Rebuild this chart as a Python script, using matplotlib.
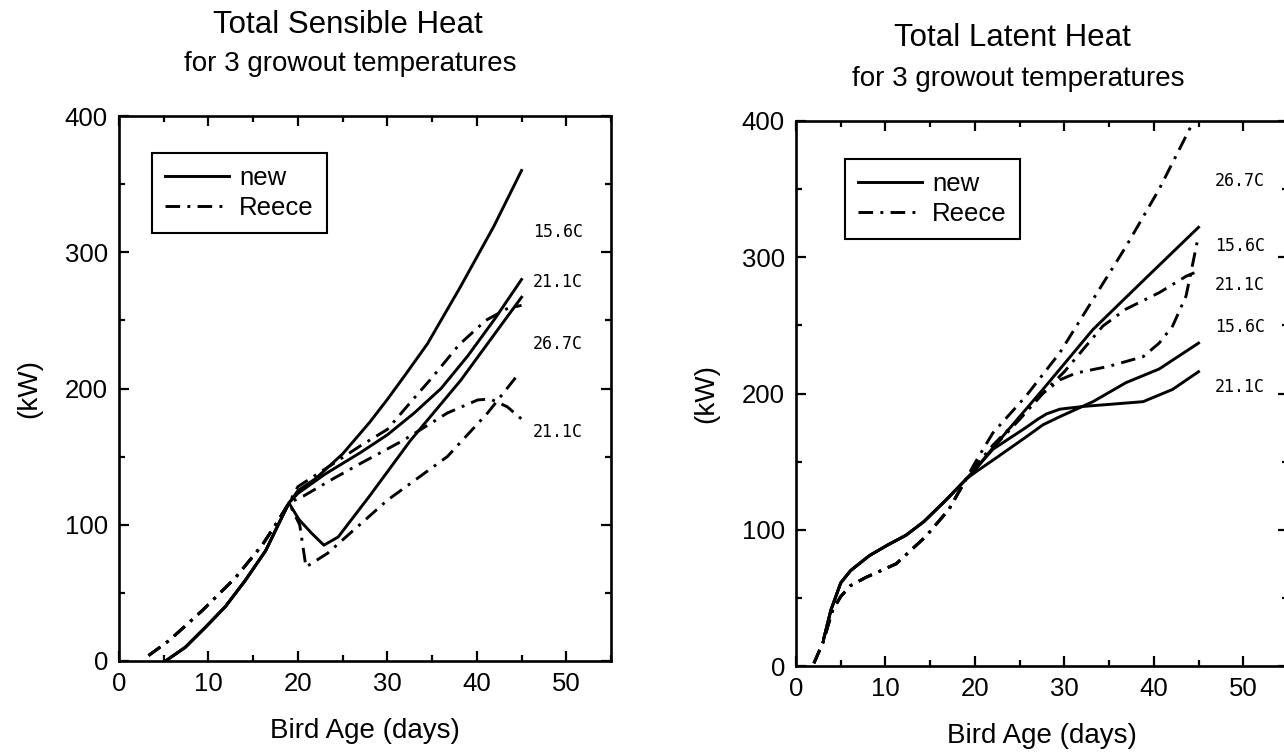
import matplotlib
matplotlib.use('Agg')
import matplotlib.pyplot as plt
from matplotlib.lines import Line2D
from matplotlib.ticker import MultipleLocator

plt.rcParams['font.family'] = ['Liberation Sans', 'DejaVu Sans']

# ---- Total Sensible Heat (left) ----
# first part of the growout is shared by all temperatures
sens_new_early_day = [5.2, 7.4, 9.7, 11.9, 14.1, 16.4, 17.8, 19.0]
sens_new_early_kw = [0, 10, 25, 40, 59, 81, 100, 116]
sens_reece_early_day = [3.3, 5.6, 9.3, 13.0, 16.0, 17.5, 19.0]
sens_reece_early_kw = [4, 15, 37, 61, 85, 100, 116]

sens_new_156_day = [20, 22, 25, 28, 30, 32, 34.5, 38.2, 41.9, 45]
sens_new_156_kw = [125, 134, 152, 175, 192, 210, 233, 275, 319, 360]
sens_new_211_day = [20, 23, 27, 30, 33, 36, 39, 42, 45]
sens_new_211_kw = [123, 137, 153, 166, 182, 200, 224, 251, 280]
sens_new_267_day = [20.1, 21.5, 22.9, 24.5, 28, 32.6, 38.2, 45]
sens_new_267_kw = [104, 94, 85, 91, 121, 162, 206, 267]

sens_reece_156_day = [20, 24, 27, 30, 33, 35, 38, 41, 43.5, 45]
sens_reece_156_kw = [128, 145, 158, 170, 193, 208, 232, 250, 259, 261]
sens_reece_211_day = [20.6, 24, 27, 31.8, 36.7, 40.1, 41.5, 43.4, 45.1]
sens_reece_211_kw = [121, 134, 145, 162, 182, 191.6, 192.3, 186.6, 177]
sens_reece_267_day = [20.2, 20.9, 23.3, 30, 36.7, 41.2, 44.7]
sens_reece_267_kw = [100, 69, 79, 118, 150, 182, 211]

sens_labels = ["15.6C", "21.1C", "26.7C", "21.1C"]
sens_label_kw = [315, 278, 233, 168]

# ---- Total Latent Heat (right) ----
lat_new_early_day = [3.1, 3.9, 5.0, 6.1, 8.2, 10.3, 12.3, 14.3, 16.8, 19.0]
lat_new_early_kw = [20, 41, 61, 70, 81, 89, 96, 106, 122, 137]
lat_reece_early_day = [2.0, 3.0, 4.1, 5.0, 6.1, 7.8, 11.2, 14.5, 17.1, 19.0]
lat_reece_early_kw = [2, 17, 41, 51, 59, 65, 75, 95, 115, 137]

lat_new_267_day = [20, 22, 27.6, 33.2, 39, 45]
lat_new_267_kw = [144, 160, 203, 247, 284, 322]
lat_new_156_day = [20, 22, 25.7, 27.6, 29.5, 33.2, 36.9, 40.6, 45]
lat_new_156_kw = [142, 151, 168, 177, 183, 194, 208, 218, 237]
lat_new_211_day = [20, 22, 25.7, 27, 28, 29.5, 32.1, 35, 38.8, 42.1, 45]
lat_new_211_kw = [144, 159, 175, 181, 185, 188.5, 190.5, 192, 194, 203, 216]

lat_reece_267_day = [20, 22, 25.7, 29.5, 33.2, 36.9, 40.6, 44.3, 45]
lat_reece_267_kw = [149, 171, 198, 230, 269, 308, 350, 398, 406]
lat_reece_211_day = [20, 22, 25, 28, 30, 34.3, 36.9, 40.6, 43.6, 45]
lat_reece_211_kw = [146, 162, 182, 203, 216, 249.5, 262, 274, 286, 290]
lat_reece_156_day = [20, 22, 25, 27.6, 29.5, 31.3, 35, 38.8, 40.6, 42.1, 43.6, 44.3, 44.9]
lat_reece_156_kw = [147, 160, 181, 200, 210, 215, 220, 227, 237, 249.5, 271.5, 293.6, 313]

lat_labels = ["26.7C", "15.6C", "21.1C", "15.6C", "21.1C"]
lat_label_kw = [356, 308, 280, 249, 205]

DASH_DOT = (0, (5, 2.5, 1, 2.5))
LW = 2.1


def setup_axes(ax):
    ax.set_xlim(0, 55)
    ax.set_ylim(0, 400)
    ax.xaxis.set_major_locator(MultipleLocator(10))
    ax.xaxis.set_minor_locator(MultipleLocator(5))
    ax.yaxis.set_major_locator(MultipleLocator(100))
    ax.yaxis.set_minor_locator(MultipleLocator(50))
    ax.tick_params(which='both', direction='in', top=True, right=True, width=1.6)
    ax.tick_params(which='major', length=7, labelsize=18.5, pad=8)
    ax.tick_params(which='minor', length=4)
    for s in ax.spines.values():
        s.set_linewidth(1.9)
    ax.set_xlabel('Bird Age (days)', fontsize=20, labelpad=16)
    ax.set_ylabel('(kW)', fontsize=20, labelpad=16)


def draw(ax, new_early, reece_early, new_parts, reece_parts):
    for d, k in new_parts:
        ax.plot(new_early[0] + d, new_early[1] + k, color='black', lw=LW,
                solid_joinstyle='round')
    for d, k in reece_parts:
        ax.plot(reece_early[0] + d, reece_early[1] + k, color='black', lw=LW,
                linestyle=DASH_DOT)


def add_legend(ax, x0, y1):
    handles = [Line2D([], [], color='black', lw=LW),
               Line2D([], [], color='black', lw=LW, linestyle=DASH_DOT)]
    leg = ax.legend(handles, ['new', 'Reece'], loc='upper left',
                    bbox_to_anchor=(x0, y1), borderaxespad=0, fontsize=18.5,
                    handlelength=2.5, handletextpad=0.4, labelspacing=0.25,
                    borderpad=0.5, fancybox=False, framealpha=1)
    leg.get_frame().set_edgecolor('black')
    leg.get_frame().set_linewidth(1.5)


fig = plt.figure(figsize=(12.84, 7.56), dpi=100)
W, H = 1284, 756

ax1 = fig.add_axes([119 / W, 1 - 661 / H, 492 / W, 545 / H])
setup_axes(ax1)
draw(ax1, (sens_new_early_day, sens_new_early_kw),
     (sens_reece_early_day, sens_reece_early_kw),
     [(sens_new_156_day, sens_new_156_kw), (sens_new_211_day, sens_new_211_kw),
      (sens_new_267_day, sens_new_267_kw)],
     [(sens_reece_156_day, sens_reece_156_kw), (sens_reece_211_day, sens_reece_211_kw),
      (sens_reece_267_day, sens_reece_267_kw)])
for t, k in zip(sens_labels, sens_label_kw):
    ax1.text(46.3, k, t, fontsize=12, family='DejaVu Sans Mono', va='center')
add_legend(ax1, 0.067, 0.932)

ax2 = fig.add_axes([796 / W, 1 - 666 / H, 492 / W, 545 / H])
setup_axes(ax2)
draw(ax2, (lat_new_early_day, lat_new_early_kw),
     (lat_reece_early_day, lat_reece_early_kw),
     [(lat_new_267_day, lat_new_267_kw), (lat_new_156_day, lat_new_156_kw),
      (lat_new_211_day, lat_new_211_kw)],
     [(lat_reece_267_day, lat_reece_267_kw), (lat_reece_211_day, lat_reece_211_kw),
      (lat_reece_156_day, lat_reece_156_kw)])
for t, k in zip(lat_labels, lat_label_kw):
    ax2.text(46.8, k, t, fontsize=12, family='DejaVu Sans Mono', va='center')
add_legend(ax2, 0.099, 0.930)

fig.text(348 / W, 1 - 33 / H, 'Total Sensible Heat', fontsize=22.5,
         ha='center', va='baseline')
fig.text(350 / W, 1 - 71 / H, 'for 3 growout temperatures', fontsize=20,
         ha='center', va='baseline')
fig.text(1012 / W, 1 - 46 / H, 'Total Latent Heat', fontsize=22.5,
         ha='center', va='baseline')
fig.text(1018 / W, 1 - 86 / H, 'for 3 growout temperatures', fontsize=20,
         ha='center', va='baseline')

fig.savefig('out.png', dpi=100)
plt.close(fig)
